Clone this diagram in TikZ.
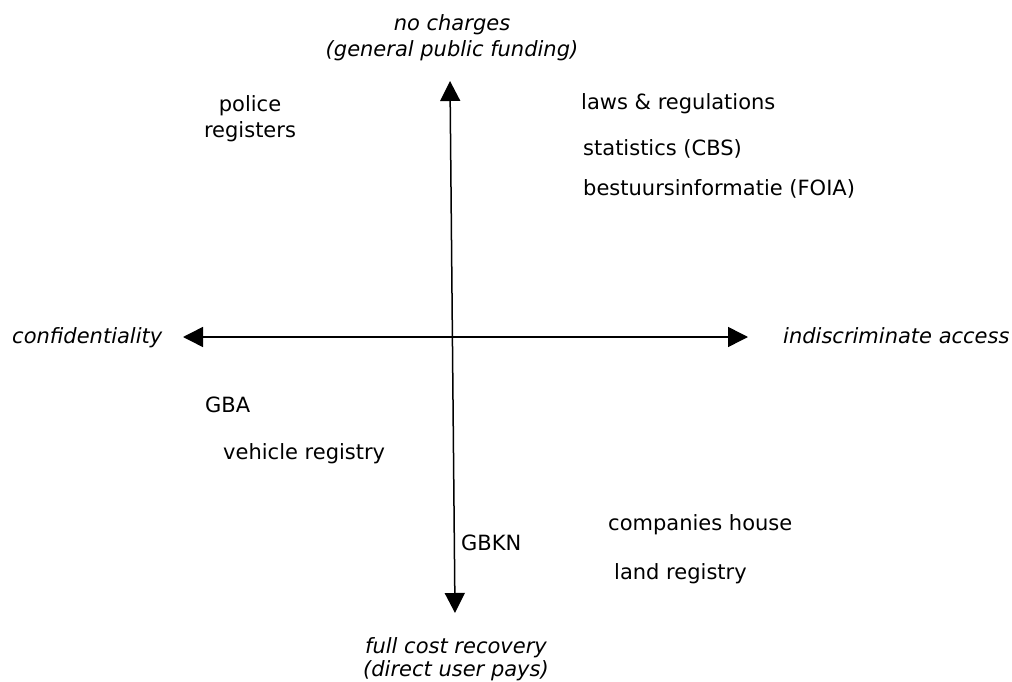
\documentclass[tikz,border=0pt]{standalone}
\usepackage{fontspec}
\setmainfont{DejaVu Sans}
\usetikzlibrary{arrows.meta}
\begin{document}
\begin{tikzpicture}[x=1pt,y=-1pt,
    item/.style={font=\fontsize{21}{26}\selectfont, inner sep=0pt, align=center},
    pole/.style={item, font=\fontsize{21}{26}\selectfont\itshape},
    axis/.style={line width=1.5pt,
      {Triangle[length=20pt,width=20pt]}-{Triangle[length=20pt,width=20pt]}}]
  \useasboundingbox (0,0) rectangle (1012,682);
  % ends of the two axes
  \coordinate (top) at (450,81);
  \coordinate (bottom) at (455,613);
  \coordinate (left) at (183,337);
  \coordinate (right) at (748,337);
  \draw[axis] (top) -- (bottom);
  \draw[axis] (left) -- (right);
  % poles (base = last line)
  \node[pole, anchor=base] (nocharges) at (452,57) {no charges\\(general public funding)};
  \node[pole, anchor=base, font=\fontsize{21}{23}\selectfont\itshape] (fullcost) at (456,676) {full cost recovery\\(direct user pays)};
  \node[pole, anchor=base west] (confid) at (12,343) {confidentiality};
  \node[pole, anchor=base west] (indiscr) at (783,343) {indiscriminate access};
  % registers
  \node[item, anchor=base] (police) at (250,138) {police\\registers};
  \node[item, anchor=base west] (laws) at (581,110) {laws \& regulations};
  \node[item, anchor=base west] (cbs) at (583,156) {statistics (CBS)};
  \node[item, anchor=base west] (foia) at (583,195) {bestuursinformatie (FOIA)};
  \node[item, anchor=base west] (gba) at (205,412) {GBA};
  \node[item, anchor=base west] (vehicle) at (223,459) {vehicle registry};
  \node[item, anchor=base west] (gbkn) at (461,550) {GBKN};
  \node[item, anchor=base west] (companies) at (608,530) {companies house};
  \node[item, anchor=base west] (land) at (614,579) {land registry};
\end{tikzpicture}
\end{document}
